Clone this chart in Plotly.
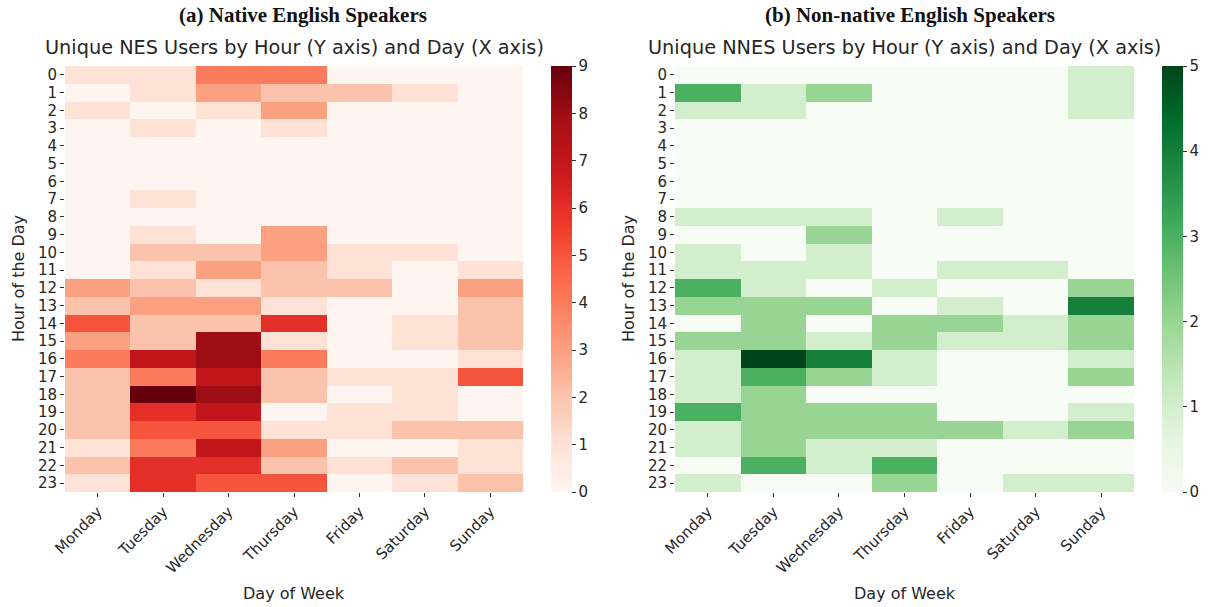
import plotly.graph_objects as go

days = ["Monday", "Tuesday", "Wednesday", "Thursday", "Friday", "Saturday", "Sunday"]
hours = [str(h) for h in range(24)]

# Unique NES users (rows = hour 0..23, cols = Monday..Sunday)
nes = [
    [1, 1, 4, 4, 0, 0, 0],
    [0, 1, 3, 2, 2, 1, 0],
    [1, 0, 1, 3, 0, 0, 0],
    [0, 1, 0, 1, 0, 0, 0],
    [0, 0, 0, 0, 0, 0, 0],
    [0, 0, 0, 0, 0, 0, 0],
    [0, 0, 0, 0, 0, 0, 0],
    [0, 1, 0, 0, 0, 0, 0],
    [0, 0, 0, 0, 0, 0, 0],
    [0, 1, 0, 3, 0, 0, 0],
    [0, 2, 2, 3, 1, 1, 0],
    [0, 1, 3, 2, 1, 0, 1],
    [3, 2, 1, 2, 2, 0, 3],
    [2, 3, 3, 1, 0, 0, 2],
    [5, 2, 2, 6, 0, 1, 2],
    [3, 2, 8, 1, 0, 1, 2],
    [4, 7, 8, 4, 0, 0, 1],
    [2, 4, 7, 2, 1, 1, 5],
    [2, 9, 8, 2, 0, 1, 0],
    [2, 6, 7, 0, 1, 1, 0],
    [2, 5, 5, 1, 1, 2, 2],
    [1, 4, 7, 3, 0, 0, 1],
    [2, 6, 6, 2, 1, 2, 1],
    [1, 6, 5, 5, 0, 1, 2],
]

# Unique NNES users
nnes = [
    [0, 0, 0, 0, 0, 0, 1],
    [3, 1, 2, 0, 0, 0, 1],
    [1, 1, 0, 0, 0, 0, 1],
    [0, 0, 0, 0, 0, 0, 0],
    [0, 0, 0, 0, 0, 0, 0],
    [0, 0, 0, 0, 0, 0, 0],
    [0, 0, 0, 0, 0, 0, 0],
    [0, 0, 0, 0, 0, 0, 0],
    [1, 1, 1, 0, 1, 0, 0],
    [0, 0, 2, 0, 0, 0, 0],
    [1, 0, 1, 0, 0, 0, 0],
    [1, 1, 1, 0, 1, 1, 0],
    [3, 1, 0, 1, 0, 0, 2],
    [2, 2, 2, 0, 1, 0, 4],
    [0, 2, 0, 2, 2, 1, 2],
    [2, 2, 1, 2, 1, 1, 2],
    [1, 5, 4, 1, 0, 0, 1],
    [1, 3, 2, 1, 0, 0, 2],
    [1, 2, 0, 0, 0, 0, 0],
    [3, 2, 2, 2, 0, 0, 1],
    [1, 2, 2, 2, 2, 1, 2],
    [1, 2, 1, 1, 0, 0, 0],
    [0, 3, 1, 3, 0, 0, 0],
    [1, 0, 0, 2, 0, 1, 1],
]

reds = ["#fff5f0", "#fee0d2", "#fcbba1", "#fc9272", "#fb6a4a",
        "#ef3b2c", "#cb181d", "#a50f15", "#67000d"]
greens = ["#f7fcf5", "#e5f5e0", "#c7e9c0", "#a1d99b", "#74c476",
          "#41ab5d", "#238b45", "#006d2c", "#00441b"]


def scale(cols):
    n = len(cols) - 1
    return [[i / n, c] for i, c in enumerate(cols)]


W, H = 1210, 607


def px(x):
    return x / W


def py(y):
    return 1 - y / H


y0 = py(492)
y1 = py(66)
lx = [px(65), px(523)]
rx = [px(675), px(1134)]

txt = "#262626"
tickfont = dict(family="DejaVu Sans", size=15, color=txt)
cbfont = dict(family="DejaVu Sans", size=15, color=txt)

fig = go.Figure()
fig.add_trace(go.Heatmap(
    z=nes, x=days, y=hours, colorscale=scale(reds), zmin=0, zmax=9,
    xaxis="x", yaxis="y",
    colorbar=dict(x=px(551), xanchor="left", y=y0, yanchor="bottom",
                  len=y1 - y0, lenmode="fraction", thickness=21,
                  outlinewidth=0, ticks="outside", ticklen=4, tickcolor="#333",
                  tickvals=list(range(10)), tickfont=cbfont,
                  xpad=0, ypad=0),
))
fig.add_trace(go.Heatmap(
    z=nnes, x=days, y=hours, colorscale=scale(greens), zmin=0, zmax=5,
    xaxis="x2", yaxis="y2",
    colorbar=dict(x=px(1162), xanchor="left", y=y0, yanchor="bottom",
                  len=y1 - y0, lenmode="fraction", thickness=21,
                  outlinewidth=0, ticks="outside", ticklen=4, tickcolor="#333",
                  tickvals=list(range(6)), tickfont=cbfont,
                  xpad=0, ypad=0),
))

axcommon = dict(showgrid=False, zeroline=False, ticks="outside", ticklen=4,
                tickcolor="#333", tickfont=tickfont, showline=False, automargin=False)

fig.update_layout(
    width=W, height=H,
    margin=dict(l=0, r=0, t=0, b=0, autoexpand=False),
    paper_bgcolor="white", plot_bgcolor="white",
    xaxis=dict(domain=lx, anchor="y", tickangle=-45, **axcommon),
    yaxis=dict(domain=[y0, y1], anchor="x", autorange="reversed", tickmode="linear", dtick=1, **axcommon),
    xaxis2=dict(domain=rx, anchor="y2", tickangle=-45, **axcommon),
    yaxis2=dict(domain=[y0, y1], anchor="x2", autorange="reversed", tickmode="linear", dtick=1, **axcommon),
    showlegend=False,
)

ann = []
for cap_x, cx, big, small in [(303, (lx[0] + lx[1]) / 2, "(a) Native English Speakers",
                               "Unique NES Users by Hour (Y axis) and Day (X axis)"),
                              (910, (rx[0] + rx[1]) / 2, "(b) Non-native English Speakers",
                               "Unique NNES Users by Hour (Y axis) and Day (X axis)")]:
    ann.append(dict(x=px(cap_x), y=py(15), xref="paper", yref="paper", text="<b>" + big + "</b>",
                    showarrow=False, xanchor="center", yanchor="middle",
                    font=dict(family="Liberation Serif", size=21, color="#111")))
    ann.append(dict(x=cx, y=py(48), xref="paper", yref="paper", text=small,
                    showarrow=False, xanchor="center", yanchor="middle",
                    font=dict(family="DejaVu Sans", size=19.3, color=txt)))
    ann.append(dict(x=cx, y=py(593), xref="paper", yref="paper", text="Day of Week",
                    showarrow=False, xanchor="center", yanchor="middle",
                    font=dict(family="DejaVu Sans", size=16, color=txt)))

for xp in [px(18), px(628)]:
    ann.append(dict(x=xp, y=(y0 + y1) / 2, xref="paper", yref="paper", text="Hour of the Day",
                    showarrow=False, textangle=-90, xanchor="center", yanchor="middle",
                    font=dict(family="DejaVu Sans", size=16, color=txt)))

fig.update_layout(annotations=ann)
fig.write_html("out.html", config={"displayModeBar": False},
               post_script="document.body.style.margin='0px';")
